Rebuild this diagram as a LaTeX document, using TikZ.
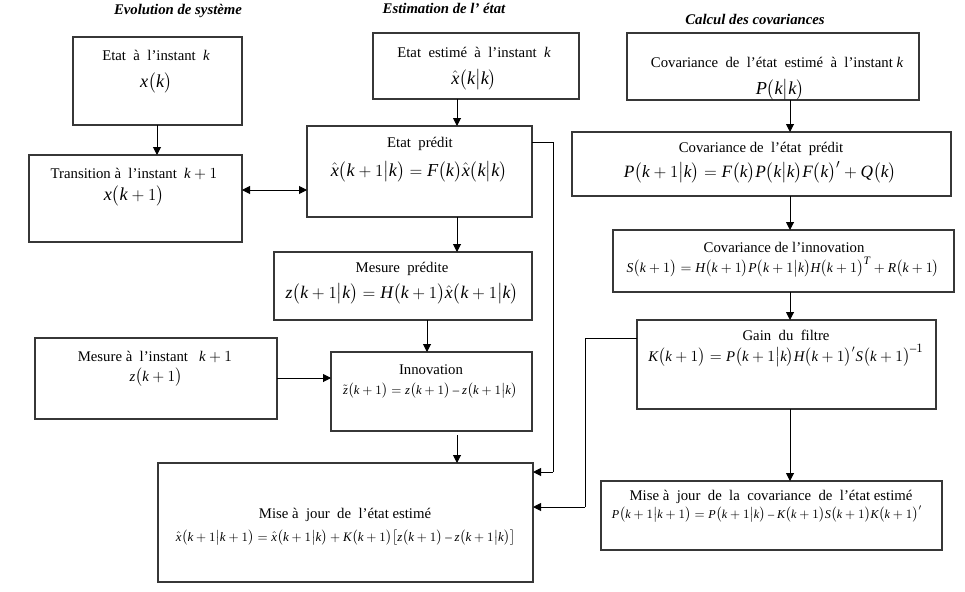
\documentclass[tikz,border=0pt]{standalone}
\usepackage{amsmath}
\usepackage{fontspec}
\setmainfont{Liberation Serif}
\usepackage[italic]{mathastext}
\usetikzlibrary{arrows.meta,positioning}
\definecolor{frame}{RGB}{55,55,55}
\newcommand{\brk}[1]{\bigl(#1\bigr)}
\newcommand{\tr}{^{\scriptscriptstyle\prime}}
\tikzset{
  >={Triangle[length=2mm,width=2mm]},
  box/.style={draw=frame,line width=0.9pt,inner sep=0pt,outer sep=0pt},
  lbl/.style={anchor=base,inner sep=0pt,font=\fontsize{10.5}{12}\selectfont},
  head/.style={anchor=base,inner sep=0pt,font=\fontsize{10.5}{12}\selectfont\bfseries\itshape},
  eq/.style={anchor=base,inner sep=0pt,font=\fontsize{#1}{18}\selectfont},
  eq/.default=13,
  eqs/.style={anchor=base,inner sep=0pt,font=\fontsize{#1}{13}\selectfont},
  eqs/.default=10.5,
  link/.style={->,line width=0.7pt},
  wire/.style={line width=0.7pt},
}
\begin{document}
\begin{tikzpicture}[x=0.25mm,y=-0.25mm]
  \useasboundingbox (0,0) rectangle (965,591);
  % column headings
  \node[head] (h1) at (178,14) {Evolution de système};
  \node[head] (h2) at (444,13) {Estimation de l’ état};
  \node[head] (h3) at (755,24) {Calcul des covariances};
  % evolution of the system
  \node[box,minimum width=42.25mm,minimum height=22mm] (A) at (157.5,81) {};
  \node[lbl] (At) at (156,60) {Etat \ à \ l’instant \ $k$};
  \node[eq] (Ae) at (156,87) {$x\brk{k}$};
  \node[box,minimum width=53.25mm,minimum height=21.75mm] (B) at (135.5,198.5) {};
  \node[lbl] (Bt) at (134,178) {Transition à \ l’instant \ $k+1$};
  \node[eq] (Be) at (134,200) {$x\brk{k+1}$};
  \node[box,minimum width=60.5mm,minimum height=20.25mm] (F) at (156,378.5) {};
  \node[lbl] (Ft) at (155,361) {Mesure à \ l’instant \ \ $k+1$};
  \node[eqs] (Fe) at (156,381) {$z\brk{k+1}$};
  % state estimation
  \node[box,minimum width=51.5mm,minimum height=16.5mm] (C) at (476,66) {};
  \node[lbl] (Ct) at (474,57) {Etat \ estimé \ à \ l’instant \ $k$};
  \node[eq] (Ce) at (474,84) {$\hat{x}\brk{k\big|k}$};
  \node[box,minimum width=56.25mm,minimum height=22.75mm] (D) at (419.5,171.5) {};
  \node[lbl] (Dt) at (420,147) {Etat \ prédit};
  \node[eq] (De) at (419,176) {$\hat{x}\brk{k+1\big|k}=F\brk{k}\hat{x}\brk{k\big|k}$};
  \node[box,minimum width=64.5mm,minimum height=17mm] (E) at (403,286) {};
  \node[lbl] (Et) at (402,272) {Mesure \ prédite};
  \node[eq=12.6] (Ee) at (402,298) {$z\brk{k+1\big|k}=H\brk{k+1}\hat{x}\brk{k+1\big|k}$};
  \node[box,minimum width=50.25mm,minimum height=19.75mm] (G) at (431.5,391.5) {};
  \node[lbl] (Gt) at (431,374) {Innovation};
  \node[eqs=9] (Ge) at (430,394) {$\tilde{z}\brk{k+1}=z\brk{k+1}-z\brk{k+1\big|k}$};
  \node[box,minimum width=93.75mm,minimum height=29.75mm] (H) at (345.5,522.5) {};
  \node[lbl] (Ht) at (345,518) {Mise à \ jour \ de \ l’état estimé};
  \node[eqs=9.2] (He) at (345.5,541) {$\hat{x}\brk{k+1\big|k+1}=\hat{x}\brk{k+1\big|k}+K\brk{k+1}\bigl[z\brk{k+1}-z\brk{k+1\big|k}\bigr]$};
  % covariances
  \node[box,minimum width=73mm,minimum height=16.75mm] (I) at (773,66.5) {};
  \node[lbl] (It) at (777,67) {Covariance \ de \ l’état \ estimé \ à \ l’instant $k$};
  \node[eq] (Ie) at (780,94) {$P\brk{k\big|k}$};
  \node[box,minimum width=94.75mm,minimum height=16mm] (J) at (761.5,164) {};
  \node[lbl] (Jt) at (761,152) {Covariance de \ l’état \ prédit};
  \node[eq=12.3] (Je) at (760,177) {$P\brk{k+1\big|k}=F\brk{k}P\brk{k\big|k}F\brk{k}\tr+Q\brk{k}$};
  \node[box,minimum width=85.25mm,minimum height=15.5mm] (K) at (783.5,261) {};
  \node[lbl] (Kt) at (784,252) {Covariance de l’innovation};
  \node[eqs=9.7] (Ke) at (783,272) {$S\brk{k+1}=H\brk{k+1}P\brk{k+1\big|k}H\brk{k+1}^{T}+R\brk{k+1}$};
  \node[box,minimum width=74.75mm,minimum height=22.25mm] (L) at (786.5,364.5) {};
  \node[lbl] (Lt) at (786,340) {Gain \ du \ filtre};
  \node[eqs] (Le) at (786,361) {$K\brk{k+1}=P\brk{k+1\big|k}H\brk{k+1}\tr S\brk{k+1}^{-1}$};
  \node[box,minimum width=85.25mm,minimum height=17.25mm] (M) at (771.5,515.5) {};
  \node[lbl] (Mt) at (771,500) {Mise à \ jour \ de \ la \ covariance \ de \ l’état estimé};
  \node[eqs=8.6] (Me) at (767,518) {$P\brk{k+1\big|k+1}=P\brk{k+1\big|k}-K\brk{k+1}S\brk{k+1}K\brk{k+1}\tr$};
  % connectors
  \draw[link] (A.south -| 157,0) -- (B.north -| 157,0);
  \draw[link,<->] (B.east |- 0,190) -- (D.west |- 0,190);
  \foreach \a/\b in {C/D,D/E} \draw[link] (\a.south -| 457,0) -- (\b.north -| 457,0);
  \draw[link] (E.south -| 427,0) -- (G.north -| 427,0);
  \draw[link] (F.east |- 0,378) -- (G.west |- 0,378);
  \draw[link] (457,435) -- (H.north -| 457,0);
  \draw[wire] (D.east |- 0,142) -- (553,142) -- (553,472);
  \draw[link] (553,472) -- (H.east |- 0,472);
  \draw[wire] (L.west |- 0,338) -- (585,338) -- (585,507);
  \draw[link] (585,507) -- (H.east |- 0,507);
  \foreach \a/\b in {I/J,J/K,K/L,L/M} \draw[link] (\a.south -| 790,0) -- (\b.north -| 790,0);
\end{tikzpicture}
\end{document}
